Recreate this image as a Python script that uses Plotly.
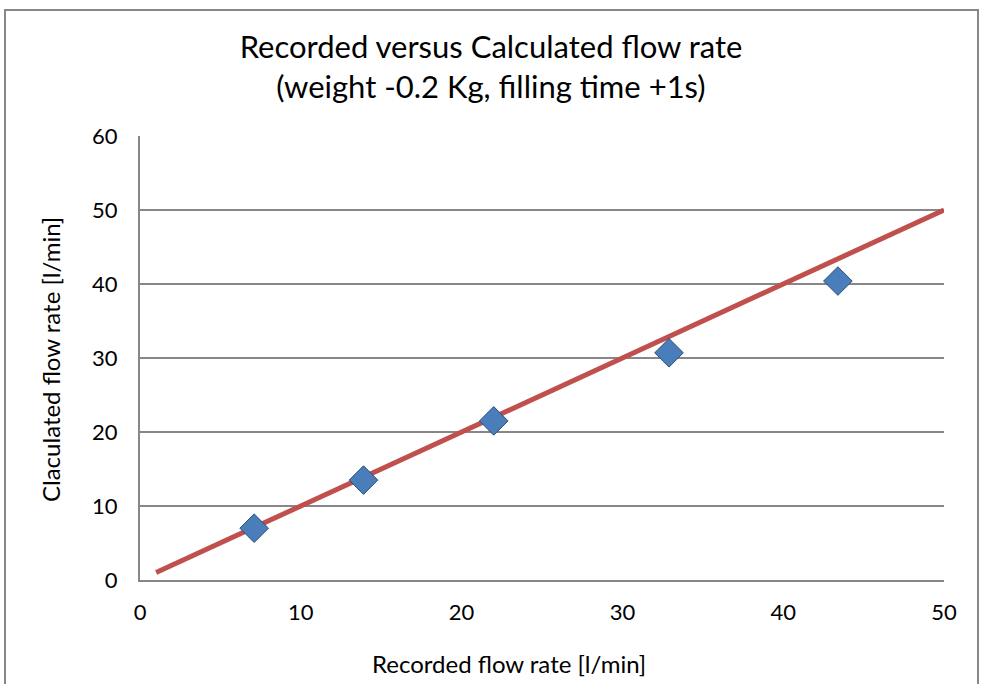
import plotly.graph_objects as go

recorded = [7.1, 13.9, 22.0, 32.9, 43.4]
calculated = [7.0, 13.5, 21.5, 30.7, 40.4]
line_x = [1, 50]
line_y = [1, 50]
x_ticks = [0, 10, 20, 30, 40, 50]
y_ticks = [0, 10, 20, 30, 40, 50, 60]

FONT = "Lato"

fig = go.Figure()
fig.add_trace(go.Scatter(x=line_x, y=line_y, mode="lines",
                         line=dict(color="#C0504D", width=5), showlegend=False))
fig.add_trace(go.Scatter(x=recorded, y=calculated, mode="markers",
                         marker=dict(symbol="diamond", size=22, color="#4A7EBB",
                                     line=dict(color="#2C4D75", width=1)),
                         showlegend=False))

L, R, T, B = 140, 38, 136, 104
W, H = 982, 684
pw, ph = W - L - R, H - T - B

def px(x):
    return (x - L) / pw

def py(y):
    return (H - B - y) / ph

fig.update_layout(
    width=W, height=H,
    margin=dict(l=L, r=R, t=T, b=B),
    paper_bgcolor="white", plot_bgcolor="white",
    font=dict(family=FONT, color="black"),
    title=dict(text="Recorded versus Calculated flow rate<br>(weight -0.2 Kg, filling time +1s)",
               x=0.5, xanchor="center", y=1 - 58 / H, yanchor="middle",
               font=dict(size=31, family=FONT)),
    xaxis=dict(range=[0, 50], tickvals=x_ticks, showgrid=False, zeroline=False,
               showline=True, linecolor="#878787", linewidth=2,
               ticks="", tickfont=dict(size=22, family=FONT), ticklabelstandoff=12),
    yaxis=dict(range=[0, 60], tickvals=y_ticks, showgrid=True, gridcolor="#878787",
               gridwidth=2, zeroline=False, showline=True, linecolor="#878787",
               linewidth=2, ticks="", tickfont=dict(size=22, family=FONT),
               ticklabelstandoff=16),
    annotations=[
        dict(text="Recorded flow rate [l/min]", xref="paper", yref="paper",
             x=px(509), y=py(663), showarrow=False, xanchor="center", yanchor="middle",
             font=dict(size=24, family=FONT)),
        dict(text="Claculated flow rate [l/min]", xref="paper", yref="paper",
             x=px(50), y=py(360), showarrow=False, xanchor="center", yanchor="middle",
             textangle=-90, font=dict(size=24, family=FONT)),
    ],
    shapes=[
        dict(type="rect", xref="paper", yref="paper",
             x0=px(5), x1=px(978), y0=py(700), y1=py(10),
             line=dict(color="#878787", width=2), fillcolor="rgba(0,0,0,0)", layer="below"),
    ],
)

fig.write_html("out.html")
